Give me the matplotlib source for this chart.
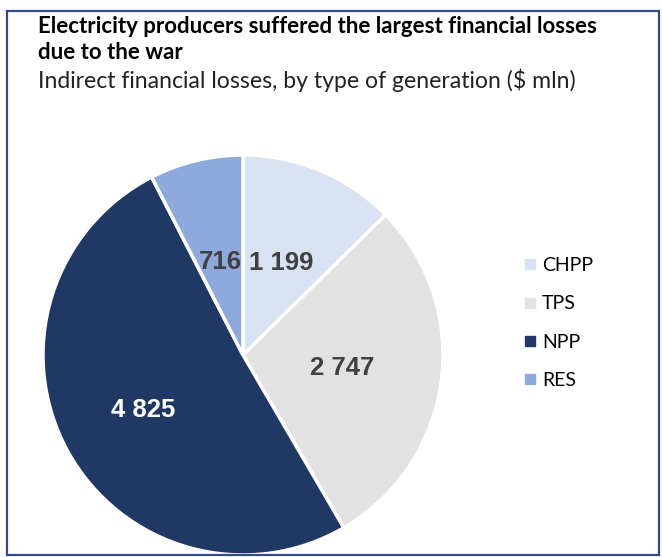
import numpy as np
import matplotlib.pyplot as plt
from matplotlib.patches import Rectangle
from matplotlib.lines import Line2D

categories = ["CHPP", "TPS", "NPP", "RES"]
losses = [1199, 2747, 4825, 716]
label_texts = ["1 199", "2 747", "4 825", "716"]
colors = ["#D9E2F3", "#E2E2E2", "#1F3864", "#8EA9DB"]
label_colors = ["#404040", "#404040", "#FFFFFF", "#404040"]
label_dist = [0.50, 0.50, 0.57, 0.48]

W, H = 662, 557
fig = plt.figure(figsize=(W / 100, H / 100), dpi=100)

# frame around the whole graphic
fig.patches.append(Rectangle((7 / W, 2 / H), 652 / W, 544 / H, transform=fig.transFigure,
                             fill=False, edgecolor="#2F4B8C", linewidth=1.6))

fig.text(38 / W, 1 - 33 / H, "Electricity producers suffered the largest financial losses",
         fontsize=16, fontweight="bold", family="Lato", color="black", va="baseline")
fig.text(38 / W, 1 - 59 / H, "due to the war",
         fontsize=16, fontweight="bold", family="Lato", color="black", va="baseline")
fig.text(38 / W, 1 - 88 / H, "Indirect financial losses, by type of generation ($ mln)",
         fontsize=16.6, family="Lato", color="#222222", va="baseline")

# pie axes: centre (243, 355) radius 200 px
cx, cy, r = 243, 355, 200
ax = fig.add_axes([(cx - r) / W, (H - cy - r) / H, 2 * r / W, 2 * r / H])
wedges, _ = ax.pie(losses, colors=colors, startangle=90, counterclock=False,
                   wedgeprops=dict(edgecolor="white", linewidth=2.5))
ax.set_xlim(-1, 1)
ax.set_ylim(-1, 1)
ax.set_aspect("equal")
ax.axis("off")

for w, txt, c, d in zip(wedges, label_texts, label_colors, label_dist):
    ang = np.deg2rad((w.theta1 + w.theta2) / 2)
    ax.text(d * np.cos(ang), d * np.sin(ang), txt, ha="center", va="center",
            fontsize=18.5, fontweight="bold", family="Liberation Sans", color=c)

handles = [Line2D([], [], linestyle="none", marker="s", markersize=7,
                  markerfacecolor=col, markeredgecolor=col) for col in colors]
fig.legend(handles, categories, loc="center left", bbox_to_anchor=(507 / W, 1 - 323 / H),
           frameon=False, handlelength=0.6, handletextpad=0.3, labelspacing=1.1,
           prop=dict(family="Lato", size=14))

fig.savefig("out.png", dpi=100)
